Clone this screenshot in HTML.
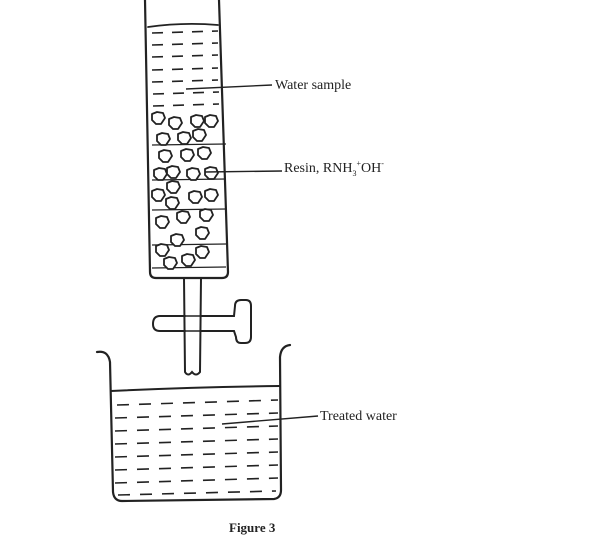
<!DOCTYPE html>
<html><head><meta charset="utf-8"><style>
html,body{margin:0;padding:0;background:#fff;}
svg{display:block;}
text{font-family:"Liberation Serif",serif;fill:#222;}
</style></head><body>
<svg width="611" height="540" viewBox="0 0 611 540" xmlns="http://www.w3.org/2000/svg">
<defs>
<path id="b" d="M-6,-4 L-1,-6 L5,-5 L7,0 L3,6 L-2,6 L-6,2 Z" fill="#fff" stroke="#222" stroke-width="1.8" stroke-linejoin="round"/>
</defs>
<g fill="none" stroke="#222" stroke-width="2.2" stroke-linecap="round">
<!-- column -->
<path d="M145,0 L150,272 Q150,278 156,278 L222,278 Q228,278 228,272 L219,0"/>
<path d="M148,27 Q183,22 218,25" stroke-width="1.8"/>
<!-- stem -->
<path d="M184,278 L185,372 Q188,377 192,372 Q196,377 200,372 L201,278" stroke-width="2"/>
<!-- tap -->
<path d="M185,316 L160,316 Q153,316 153,324 Q153,331 160,331 L185,331 M201,316 L234,316 L235,306 Q235,300 241,300 L246,300 Q251,300 251,306 L251,337 Q251,343 245,343 L241,343 Q236,343 236,337 L234,331 L201,331" stroke-width="2"/>
<path d="M185,316 L201,316 M185,331 L201,331" stroke-width="1.5"/>
<!-- beaker -->
<path d="M97,352 Q108,350 110,362 L113,492 Q114,501 122,501 L274,499 Q281,498 281,490 L280,357 Q281,346 290,345"/>
<path d="M111,391 Q195,387 280,386" stroke-width="2"/>
</g>
<!-- water dashes in column -->
<g stroke="#222" stroke-width="1.6" stroke-dasharray="11,9">
<line x1="152" y1="33" x2="218" y2="31"/>
<line x1="152" y1="45" x2="218" y2="43"/>
<line x1="152" y1="57" x2="218" y2="55"/>
<line x1="152" y1="70" x2="218" y2="68"/>
<line x1="152" y1="82" x2="218" y2="80"/>
<line x1="153" y1="94" x2="219" y2="92"/>
<line x1="153" y1="106" x2="219" y2="104"/>
</g>
<!-- beaker dashes -->
<g stroke="#222" stroke-width="1.6" stroke-dasharray="12,10">
<line x1="117" y1="405" x2="278" y2="400"/>
<line x1="115" y1="418" x2="278" y2="413"/>
<line x1="115" y1="431" x2="278" y2="426"/>
<line x1="115" y1="444" x2="278" y2="439"/>
<line x1="115" y1="457" x2="278" y2="452"/>
<line x1="115" y1="470" x2="278" y2="465"/>
<line x1="115" y1="483" x2="278" y2="478"/>
<line x1="118" y1="495" x2="276" y2="491"/>
</g>
<!-- resin short lines -->
<g stroke="#222" stroke-width="1.3">
<line x1="152" y1="145" x2="226" y2="144"/>
<line x1="152" y1="180" x2="226" y2="179"/>
<line x1="152" y1="210" x2="226" y2="209"/>
<line x1="152" y1="245" x2="226" y2="244"/>
<line x1="152" y1="268" x2="226" y2="267"/>
</g>
<!-- beads -->
<g>
<use href="#b" x="158" y="118"/><use href="#b" x="175" y="123"/><use href="#b" x="197" y="121"/><use href="#b" x="211" y="121"/>
<use href="#b" x="163" y="139"/><use href="#b" x="184" y="138"/><use href="#b" x="199" y="135"/>
<use href="#b" x="165" y="156"/><use href="#b" x="187" y="155"/><use href="#b" x="204" y="153"/>
<use href="#b" x="160" y="174"/><use href="#b" x="173" y="172"/><use href="#b" x="193" y="174"/><use href="#b" x="211" y="173"/>
<use href="#b" x="173" y="187"/><use href="#b" x="158" y="195"/><use href="#b" x="195" y="197"/><use href="#b" x="211" y="195"/>
<use href="#b" x="172" y="203"/><use href="#b" x="162" y="222"/><use href="#b" x="183" y="217"/><use href="#b" x="206" y="215"/>
<use href="#b" x="202" y="233"/><use href="#b" x="177" y="240"/><use href="#b" x="162" y="250"/><use href="#b" x="202" y="252"/>
<use href="#b" x="188" y="260"/><use href="#b" x="170" y="263"/>
</g>
<!-- leader lines -->
<g stroke="#222" stroke-width="1.4">
<line x1="186" y1="89" x2="272" y2="85"/>
<line x1="205" y1="172" x2="282" y2="171"/>
<line x1="222" y1="424" x2="318" y2="416"/>
</g>
<text x="275" y="89" font-size="14">Water sample</text>
<text x="284" y="172" font-size="14">Resin, RNH<tspan font-size="8" dy="4">3</tspan><tspan font-size="8" dy="-10">+</tspan><tspan dy="6">OH</tspan><tspan font-size="8" dy="-6">-</tspan></text>
<text x="320" y="420" font-size="14">Treated water</text>
<text x="229" y="532" font-size="13" font-weight="bold">Figure 3</text>
</svg>
</body></html>
